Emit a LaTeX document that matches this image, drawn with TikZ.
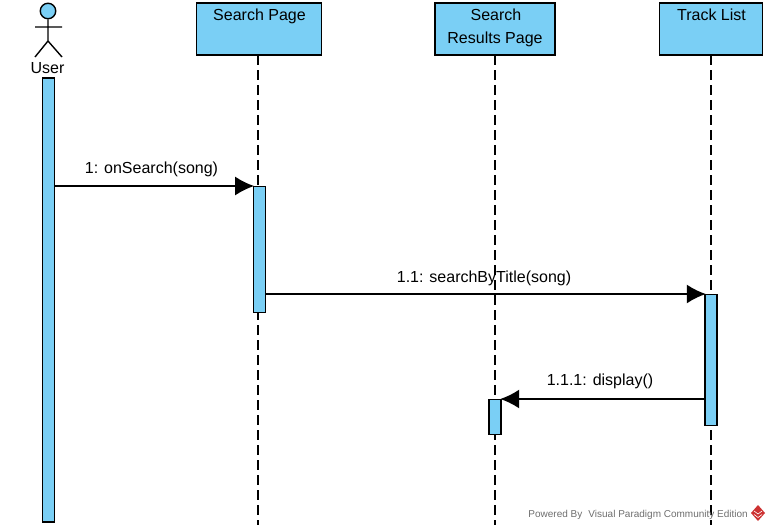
\documentclass[tikz,border=0pt]{standalone}
\usepackage{fontspec}
\setmainfont{Liberation Sans}
\usetikzlibrary{arrows.meta}
\definecolor{vpblue}{RGB}{122,207,245}
\definecolor{vpgray}{RGB}{110,110,110}
\definecolor{vpred}{RGB}{205,50,50}
\tikzset{
 px/.style={x=1pt,y=-1pt},
 lifebox/.style={draw=black,fill=vpblue,line width=1.4pt,minimum width=#1,minimum height=52pt,inner sep=0pt},
 activation/.style={draw=black,fill=vpblue,line width=1.4pt,minimum width=12pt,inner sep=0pt},
 lifeline/.style={draw=black,line width=1.6pt,dash pattern=on 10pt off 5pt},
 msg/.style={draw=black,line width=1.6pt,shorten >=-1.5pt,-{Latex[length=19pt,width=19pt,sharp]}},
 lbl/.style={font=\fontsize{16}{18}\selectfont,text=black,inner sep=0pt},
}
\begin{document}
\begin{tikzpicture}[px]
\useasboundingbox (0,0) rectangle (770,530);
% lifelines
\coordinate (l1t) at (258,55); \coordinate (l1b) at (258,525);
\coordinate (l2t) at (495,55); \coordinate (l2b) at (495,525);
\coordinate (l3t) at (711,55); \coordinate (l3b) at (711,525);
\draw[lifeline] (l1t) -- (l1b);
\draw[lifeline] (l2t) -- (l2b);
\draw[lifeline] (l3t) -- (l3b);
% heads
\node[lifebox=125pt] (sp) at (259,29) {};
\node[lbl,anchor=base] (sptext) at (259.5,20.5) {Search Page};
\node[lifebox=120pt] (srp) at (495,29) {};
\node[lbl,anchor=base] (srptext1) at (496,20.5) {Search};
\node[lbl,anchor=base] (srptext2) at (495,43.5) {Results Page};
\node[lifebox=103pt] (tl) at (711,29) {};
\node[lbl,anchor=base] (tltext) at (711.5,20.5) {Track List};
% actor
\node[draw=black,fill=vpblue,circle,line width=1.4pt,minimum size=15.5pt,inner sep=0pt] (head) at (48,11) {};
\coordinate (hip) at (48,41);
\coordinate (armL) at (35,27); \coordinate (armR) at (62,27);
\coordinate (legL) at (35,57); \coordinate (legR) at (62,57);
\draw[black,line width=1.4pt] (head.south) -- (hip) -- (legL) (hip) -- (legR) (armL) -- (armR);
\node[lbl,anchor=base] (usertext) at (47.5,73.5) {User};
% activations
\node[activation,minimum height=444pt] (a0) at (48.5,300) {};
\node[activation,minimum height=126pt] (a1) at (259.3,249.5) {};
\node[activation,minimum height=131pt] (a3) at (711,360) {};
\node[activation,minimum height=35pt] (a2) at (495,417) {};
% messages
\coordinate (m1s) at (a0.east |- 0,186); \coordinate (m1e) at (a1.west |- 0,186);
\draw[msg] (m1s) -- (m1e);
\node[lbl,anchor=base] (m1) at (151.5,173.5) {1: onSearch(song)};
\coordinate (m2s) at (a1.east |- 0,294); \coordinate (m2e) at (a3.west |- 0,294);
\draw[msg] (m2s) -- (m2e);
\node[lbl,anchor=base] (m2) at (484,282.5) {1.1: searchByTitle(song)};
\coordinate (m3s) at (a3.west |- 0,399); \coordinate (m3e) at (a2.east |- 0,399);
\draw[msg] (m3s) -- (m3e);
\node[lbl,anchor=base] (m3) at (600,385.5) {1.1.1: display()};
% footer
\node[font=\fontsize{10}{12}\selectfont,text=vpgray,anchor=base east,inner sep=0pt] (pw) at (748,517) {Powered By\,\, Visual Paradigm Community Edition};
\fill[vpred] (758,505) -- (765,513) -- (758,521) -- (751,513) -- cycle;
\draw[white,line width=0.6pt] (754,511) -- (758,514) -- (762,511) (754,514.5) -- (758,517.5) -- (762,514.5);
\end{tikzpicture}
\end{document}
